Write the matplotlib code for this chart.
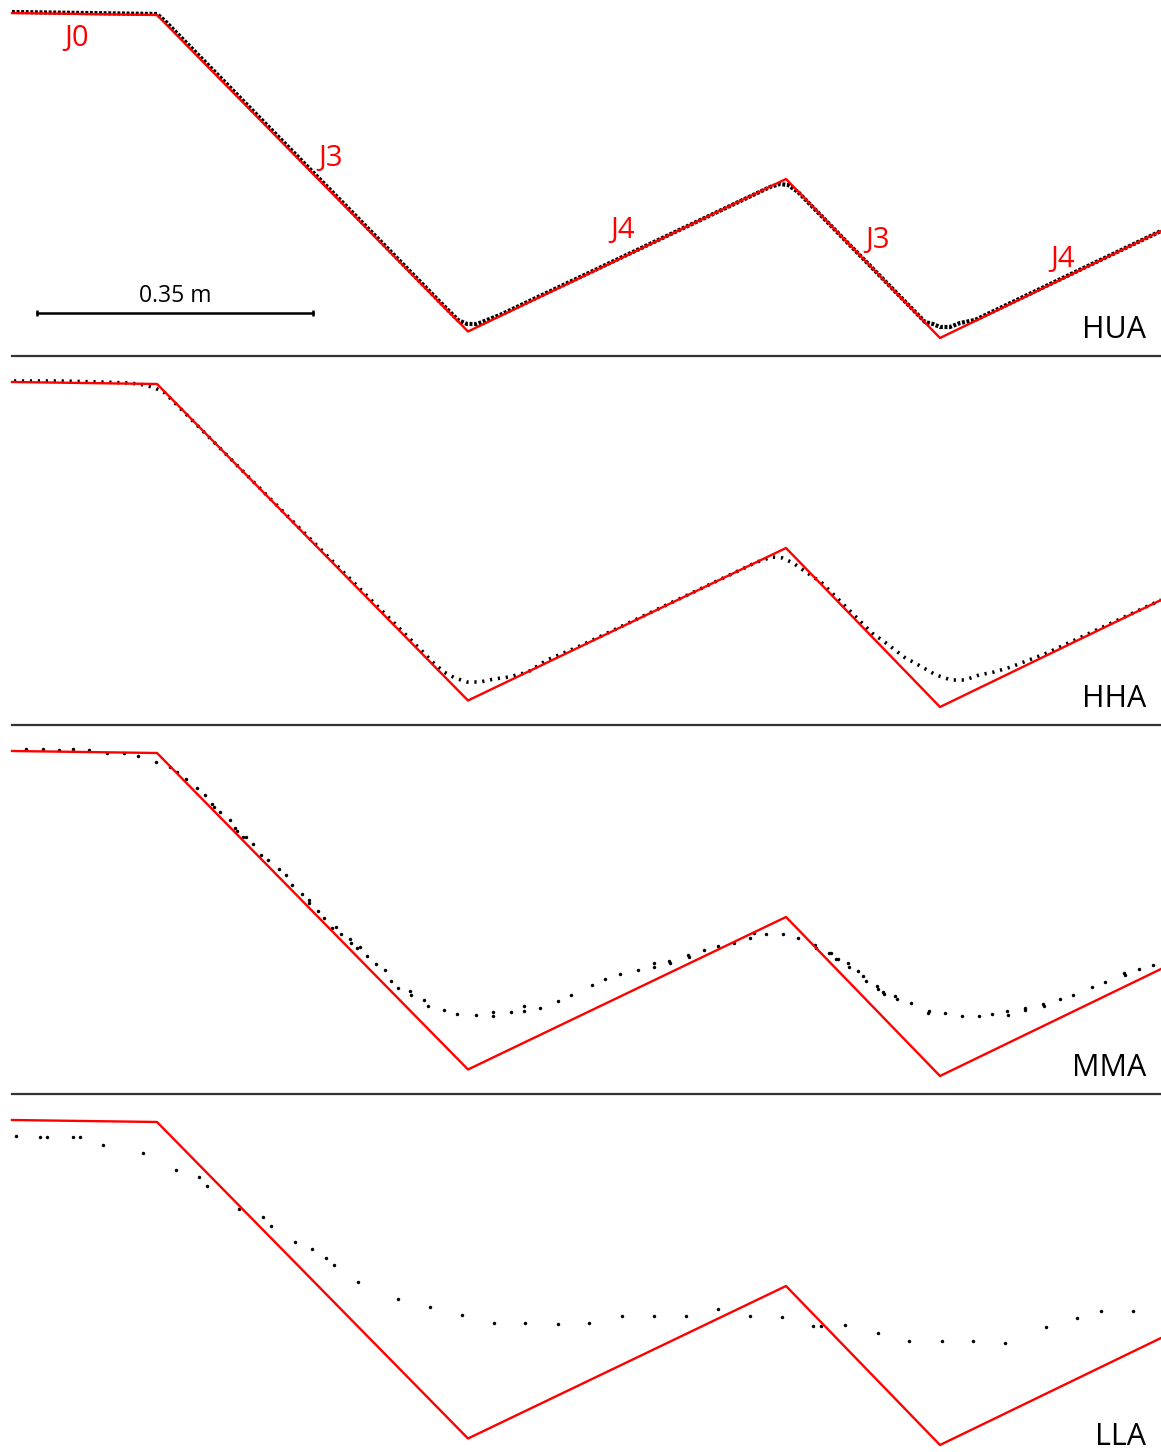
import numpy as np
import matplotlib
matplotlib.use("Agg")
import matplotlib.pyplot as plt

plt.rcParams['font.family'] = ['Open Sans', 'DejaVu Sans']

# digitised offsets from the start of the reference path (units / metre below),
# x to the right, y downwards
UNITS_PER_M = 788.6

panel_names = ["HUA", "HHA", "MMA", "LLA"]

# reference path (red): J0 flat, J3 down, J4 up, J3 down, J4 up
ref_pts = [(0, 0), (145, 2), (456, 318.5), (774, 166), (928, 325), (1149, 218)]

# measured trajectories
hua_pts = [(0, -1), (145, 1), (153, 8), (428, 289), (440, 301), (446, 307), (455, 311),
           (465, 311), (475, 307), (488, 302), (758, 174), (768, 171), (776, 172),
           (786, 179), (913, 309), (921, 311), (928, 314), (938, 314), (948, 310),
           (963, 307), (1149, 218)]

hha_pts = [(2, -1), (48, -1), (88, 0), (118, 1), (133, 3), (143, 6), (153, 11),
           (409, 268), (420.5, 280), (432, 290), (443, 296), (455, 300), (468, 300),
           (482, 297), (497, 295), (516, 290), (535, 278), (554, 270), (570, 263),
           (585, 256), (745, 180), (760, 175), (770.5, 176), (781, 181), (794, 190),
           (810, 201), (860, 251), (874, 261), (892, 275), (910, 285), (924, 293),
           (939, 298), (953, 298), (967, 293), (982, 290), (999, 285), (1017, 278),
           (1035, 271), (1149, 218)]

mma_pts = [(14, -1.7), (31, -1.7), (47, -1), (61, -1.7), (77, -0.7), (95, 2), (112, 2),
           (126, 5), (144, 11.3), (158, 15.7), (165, 21.3), (174, 28.3), (185, 36.7),
           (193, 43.7), (200, 53.3), (202, 55.7), (208, 60.7), (218, 69), (223, 77.3),
           (225, 80), (231, 86.3), (234, 85.7), (241, 93), (249, 103.7), (256, 109),
           (267, 118.3), (274, 124), (280, 134.3), (290, 143.3), (296.5, 149),
           (297, 152.3), (306, 159.7), (312, 166.7), (320, 177.3), (324, 175.7),
           (329, 182.7), (338, 188), (339, 191.7), (345, 197.3), (348, 195.7),
           (355, 205), (364, 213), (373, 219.3), (379, 230.3), (386, 236.7),
           (397.5, 239.7), (399, 244), (412, 249), (415.5, 254.7), (432, 258.7),
           (445, 263), (464, 264.3), (481, 261), (481, 265), (499, 261), (511.5, 255.3),
           (511.5, 260.3), (528, 257), (546, 250), (559, 244), (580, 234),
           (593, 227.7), (608, 223.3), (626, 219), (642, 211.7), (642, 216), (657, 210),
           (658, 212.3), (676, 203.7), (677, 206.3), (692, 199), (706, 195), (722, 191.7),
           (738, 187.3), (742, 182.3), (754, 183.3), (770.5, 183.3), (785.5, 186.7),
           (803, 194), (804, 197.3), (817, 201.7), (819, 201.7), (824, 207.7),
           (826, 208.3), (836, 212.3), (837, 215.7), (846, 219.7), (851, 225),
           (853.5, 229.7), (865, 235), (866, 237.7), (871, 240.7), (872, 243.3),
           (883, 245), (885, 248.3), (899, 251.7), (917, 259.7), (916, 262.3),
           (933, 262.3), (950, 264.7), (967, 264.7), (980, 263.3), (995, 259.7),
           (996, 264), (1013, 256.7), (1013, 259), (1031, 253), (1032, 255),
           (1048, 248.3), (1061, 244), (1080, 236.3), (1093, 231), (1112, 222.3),
           (1113, 224.3), (1126.5, 218.3), (1141, 214.3)]

lla_pts = [(4, 16), (28, 17), (35, 17), (61, 17), (68, 17), (91, 25.3), (131, 33),
           (164, 49.7), (187, 57.3), (195, 65.7), (227, 89.3), (250.5, 97.3),
           (259, 105.7), (283, 122), (299.5, 129.3), (314, 138.3), (322, 145.3),
           (346, 161.7), (386, 178.7), (418, 186.7), (450, 194.7), (482, 203.3),
           (513, 203.3), (546, 204), (576.6, 203.3), (610, 196), (641.7, 196),
           (674, 196), (706, 189), (737.6, 196.3), (769.8, 197.3), (801, 205.7),
           (809, 205.7), (833.4, 205.3), (866, 213.3), (897, 221.3), (929.7, 221.3),
           (960.8, 221.3), (993, 222.7), (1033.8, 206.7), (1065.3, 198), (1089.3, 191),
           (1121.4, 191)]

joint_labels = ["J0", "J3", "J4", "J3", "J4"]
joint_label_pos = [(65, 33), (319, 153), (610.5, 225), (865.5, 235), (1050.5, 254)]

scale_len_m = 0.35


def to_m(pts):
    a = np.array(pts, dtype=float)
    return a[:, 0] / UNITS_PER_M, -a[:, 1] / UNITS_PER_M


W, H = 1161, 1452
PANEL = 369
X0 = 12

fig = plt.figure(figsize=(W / 100, H / 100), dpi=100)
measured = [hua_pts, hha_pts, mma_pts, lla_pts]

for k, name in enumerate(panel_names):
    top = PANEL * k
    bot = min(top + PANEL, H)
    y0 = 13 + PANEL * k
    ax = fig.add_axes([0, 1 - bot / H, 1, (bot - top) / H])
    ax.set_xlim(-X0 / UNITS_PER_M, (W - X0) / UNITS_PER_M)
    ax.set_ylim(-(bot - y0) / UNITS_PER_M, (y0 - top) / UNITS_PER_M)
    ax.axis('off')

    mx, my = to_m(measured[k])
    if k == 0:
        ax.plot(mx, my, color='black', lw=3.0, linestyle=(0, (0.7, 0.4)), zorder=2)
    elif k == 1:
        ax.plot(mx, my, color='black', lw=2.6, linestyle=(0, (0.6, 1.6)),
                dash_capstyle='butt', zorder=2)
    else:
        ax.plot(mx, my, 'o', color='black', ms=2.5, mew=0, zorder=2)

    rx, ry = to_m(ref_pts)
    ax.plot(rx, ry, color='#ff0000', lw=1.7, zorder=3)

    ax.text((1146 - X0) / UNITS_PER_M, -325 / UNITS_PER_M, name,
            ha='right', va='baseline', fontsize=22, color='black')

    if k < 3:
        ax.plot([0, (W - X0) / UNITS_PER_M], [-343 / UNITS_PER_M] * 2,
                color='#333333', lw=1.6, clip_on=False, zorder=1)

    if k == 0:
        for lab, (lx, ly) in zip(joint_labels, joint_label_pos):
            ax.text(lx / UNITS_PER_M, -ly / UNITS_PER_M, lab, ha='center',
                    va='baseline', fontsize=21, color='#ff0000')
        sx = 25 / UNITS_PER_M
        sy = -300 / UNITS_PER_M
        ax.plot([sx, sx + scale_len_m], [sy, sy], color='black', lw=1.8,
                marker='|', ms=5, mew=1.8)
        ax.text(sx + scale_len_m / 2, sy + 5 / UNITS_PER_M, "%.2f m" % scale_len_m,
                ha='center', va='bottom', fontsize=16.5)

fig.savefig("out.png", dpi=100)
